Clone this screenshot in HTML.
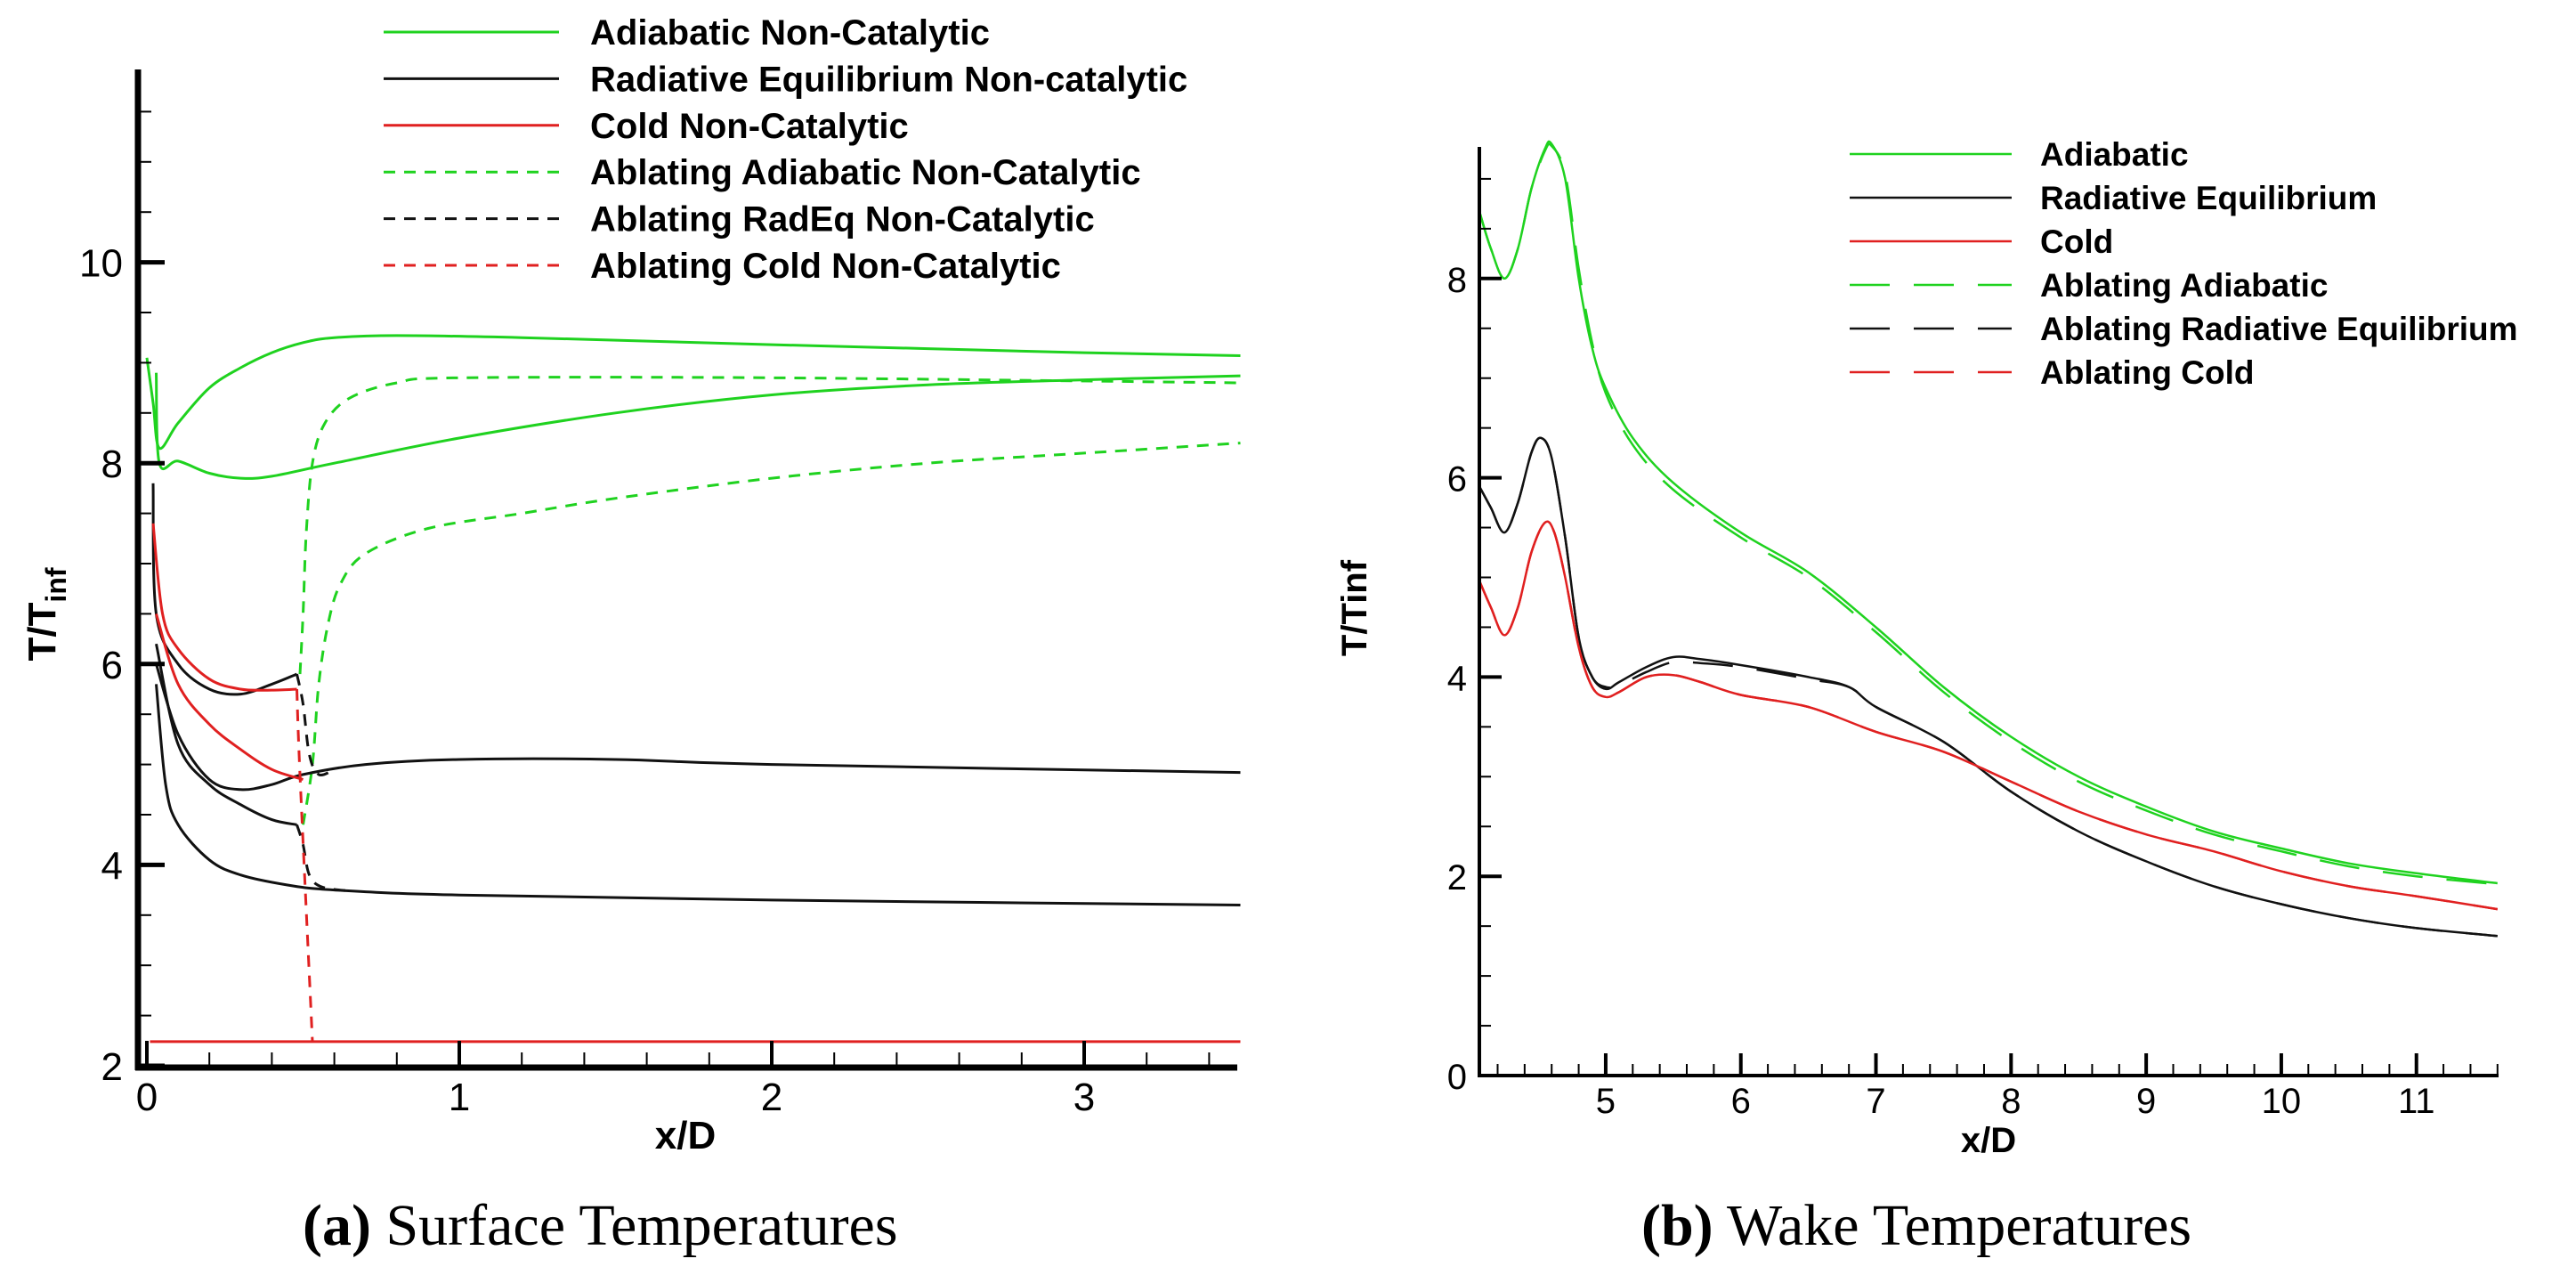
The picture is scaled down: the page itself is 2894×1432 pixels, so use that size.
<!DOCTYPE html>
<html><head><meta charset="utf-8">
<style>
html,body{margin:0;padding:0;background:#fff;}
svg{display:block;}
.tk{font-family:"Liberation Sans",sans-serif;font-size:44px;fill:#000;}
.lg{font-family:"Liberation Sans",sans-serif;font-size:40px;font-weight:bold;fill:#000;}
.ax{font-family:"Liberation Sans",sans-serif;font-size:44px;font-weight:bold;fill:#000;}
.cap{font-family:"Liberation Serif",serif;font-size:66px;fill:#000;}
</style></head>
<body>
<svg id="fig" width="2894" height="1432" viewBox="0 0 2894 1432" xmlns="http://www.w3.org/2000/svg">
<g id="chartA"></g>
<g id="chartB"></g>
<text class="cap" x="340" y="1398"><tspan font-weight="bold">(a)</tspan> Surface Temperatures</text>
<text class="cap" x="1844" y="1398"><tspan font-weight="bold">(b)</tspan> Wake Temperatures</text>
</svg>
<script>
// ---------- Chart A data (x/D, T/Tinf) ----------
const aAdiabaticUpperX = [0,0.02,0.04,0.1,0.2,0.3,0.4,0.5,0.6,0.8,1.2,2,2.5,3,3.5];
const aAdiabaticUpperY = [9.05,8.6,8.15,8.4,8.75,8.95,9.1,9.2,9.25,9.27,9.25,9.18,9.14,9.1,9.07];
const aAdiabaticLowerX = [0.03,0.04,0.1,0.2,0.3,0.4,0.6,1,1.5,2,2.5,3,3.5];
const aAdiabaticLowerY = [8.9,8.0,8.02,7.9,7.85,7.87,8.0,8.25,8.5,8.68,8.78,8.83,8.87];
const aAblAdiaUpperX = [0.49,0.5,0.51,0.53,0.57,0.65,0.8,1.0,2,3.5];
const aAblAdiaUpperY = [5.9,6.5,7.3,8.0,8.4,8.65,8.8,8.85,8.85,8.8];
const aAblAdiaLowerX = [0.5,0.53,0.55,0.58,0.62,0.7,0.9,1.2,1.5,2,2.5,3,3.5];
const aAblAdiaLowerY = [4.4,5.0,5.8,6.4,6.8,7.1,7.35,7.5,7.65,7.85,8.0,8.1,8.2];
const aRadUpperX = [0.02,0.03,0.1,0.2,0.3,0.4,0.48];
const aRadUpperY = [7.8,6.5,6.0,5.75,5.7,5.8,5.9];
const aRadMidX = [0.03,0.1,0.2,0.3,0.4,0.5,0.7,1,1.5,2,3.5];
const aRadMidY = [6.0,5.3,4.85,4.75,4.8,4.9,5.0,5.05,5.05,5.0,4.92];
const aRadLowX = [0.03,0.06,0.1,0.2,0.3,0.45,0.6,1,2,3.5];
const aRadLowY = [5.8,4.8,4.4,4.05,3.9,3.8,3.75,3.7,3.65,3.6];
const aRadSegX = [0.03,0.1,0.2,0.3,0.4,0.48];
const aRadSegY = [6.2,5.2,4.8,4.6,4.45,4.4];
const aAblRad1X = [0.48,0.5,0.52,0.55,0.6];
const aAblRad1Y = [5.9,5.6,5.1,4.9,4.95];
const aAblRad2X = [0.48,0.5,0.52,0.56,0.65];
const aAblRad2Y = [4.4,4.2,3.9,3.78,3.74];
const aColdUpperX = [0.02,0.05,0.1,0.2,0.3,0.4,0.48];
const aColdUpperY = [7.4,6.5,6.15,5.85,5.75,5.74,5.75];
const aColdLowerX = [0.03,0.1,0.2,0.3,0.4,0.5];
const aColdLowerY = [6.5,5.8,5.4,5.15,4.95,4.85];
const aColdFlatX = [0.01,3.5];
const aColdFlatY = [2.24,2.24];
const aAblColdX = [0.48,0.49,0.53];
const aAblColdY = [5.75,4.9,2.24];
const aXTicks = [0,1,2,3];
const aYTicks = [2,4,6,8,10];
const aLegendLabels = ["Adiabatic Non-Catalytic","Radiative Equilibrium Non-catalytic","Cold Non-Catalytic","Ablating Adiabatic Non-Catalytic","Ablating RadEq Non-Catalytic","Ablating Cold Non-Catalytic"];

// ---------- Chart B data ----------
const bAdiaX = [4.07,4.15,4.25,4.35,4.45,4.55,4.6,4.7,4.8,4.9,5.0,5.2,5.5,6,6.5,7,7.5,8,8.5,9,9.5,10,10.5,11,11.6];
const bAdiaY = [8.65,8.3,8.0,8.3,8.9,9.3,9.35,9.0,8.0,7.3,6.9,6.4,5.95,5.45,5.05,4.5,3.9,3.4,3.0,2.7,2.45,2.28,2.13,2.03,1.93];
const bAblAdiaY = [8.65,8.3,8.0,8.3,8.9,9.28,9.33,9.05,8.1,7.35,6.85,6.33,5.88,5.4,5.0,4.45,3.85,3.35,2.95,2.66,2.42,2.25,2.1,2.0,1.92];
const bRadX = [4.07,4.15,4.25,4.35,4.45,4.52,4.6,4.7,4.8,4.9,5.0,5.1,5.3,5.5,5.7,6,6.5,6.8,7,7.5,8,8.5,9,9.5,10,10.5,11,11.6];
const bRadY = [5.9,5.7,5.45,5.75,6.25,6.4,6.2,5.4,4.4,4.0,3.88,3.95,4.1,4.2,4.18,4.12,4.0,3.9,3.7,3.35,2.85,2.45,2.15,1.9,1.72,1.58,1.48,1.4];
const bAblRadY = [5.9,5.7,5.45,5.75,6.25,6.4,6.2,5.4,4.4,4.0,3.9,3.92,4.05,4.15,4.14,4.1,3.98,3.9,3.7,3.35,2.85,2.45,2.15,1.9,1.72,1.58,1.48,1.4];
const bColdX = [4.07,4.15,4.25,4.35,4.45,4.55,4.62,4.7,4.8,4.9,5.0,5.1,5.3,5.5,5.7,6,6.5,7,7.5,8,8.5,9,9.5,10,10.5,11,11.6];
const bColdY = [4.95,4.7,4.42,4.7,5.25,5.55,5.45,5.0,4.3,3.9,3.8,3.85,4.0,4.02,3.95,3.82,3.7,3.45,3.25,2.95,2.65,2.42,2.25,2.05,1.9,1.8,1.67];
const bXTicks = [5,6,7,8,9,10,11];
const bYTicks = [0,2,4,6,8];
const bLegendLabels = ["Adiabatic","Radiative Equilibrium","Cold","Ablating Adiabatic","Ablating Radiative Equilibrium","Ablating Cold"];

const NS="http://www.w3.org/2000/svg";
function mk(parent,tag,attrs){const e=document.createElementNS(NS,tag);for(const k in attrs)e.setAttribute(k,attrs[k]);parent.appendChild(e);return e;}
function pathD(xs,ys,sx,sy){
 const P=xs.map((x,i)=>[sx(x),sy(ys[i])]);
 let d='M'+P[0][0].toFixed(1)+' '+P[0][1].toFixed(1);
 for(let i=0;i<P.length-1;i++){
  const p0=P[Math.max(0,i-1)],p1=P[i],p2=P[i+1],p3=P[Math.min(P.length-1,i+2)];
  const c1=[p1[0]+(p2[0]-p0[0])/6,p1[1]+(p2[1]-p0[1])/6];
  const c2=[p2[0]-(p3[0]-p1[0])/6,p2[1]-(p3[1]-p1[1])/6];
  d+=' C'+c1[0].toFixed(1)+' '+c1[1].toFixed(1)+' '+c2[0].toFixed(1)+' '+c2[1].toFixed(1)+' '+p2[0].toFixed(1)+' '+p2[1].toFixed(1);
 }
 return d;
}

const GREEN="#1fd21f",BLACK="#111",RED="#e02020";

// ---------- Chart A ----------
(function(){
 const g=document.getElementById('chartA');
 const sx=u=>165+u*351, sy=v=>1197-(v-2)*112.8;
 const dashS="13 10";
 const series=[
  [aAdiabaticUpperX,aAdiabaticUpperY,GREEN,null,'adiabatic-upper-line'],
  [aAdiabaticLowerX,aAdiabaticLowerY,GREEN,null,'adiabatic-lower-line'],
  [aAblAdiaUpperX,aAblAdiaUpperY,GREEN,dashS,'ablating-adiabatic-upper-line'],
  [aAblAdiaLowerX,aAblAdiaLowerY,GREEN,dashS,'ablating-adiabatic-lower-line'],
  [aRadUpperX,aRadUpperY,BLACK,null,'radeq-upper-line'],
  [aRadMidX,aRadMidY,BLACK,null,'radeq-middle-line'],
  [aRadLowX,aRadLowY,BLACK,null,'radeq-lower-line'],
  [aRadSegX,aRadSegY,BLACK,null,'radeq-segment-line'],
  [aAblRad1X,aAblRad1Y,BLACK,dashS,'ablating-radeq-line-1'],
  [aAblRad2X,aAblRad2Y,BLACK,dashS,'ablating-radeq-line-2'],
  [aColdUpperX,aColdUpperY,RED,null,'cold-upper-line'],
  [aColdLowerX,aColdLowerY,RED,null,'cold-lower-line'],
  [aColdFlatX,aColdFlatY,RED,null,'cold-flat-line'],
  [aAblColdX,aAblColdY,RED,dashS,'ablating-cold-line']
 ];
 series.forEach(s=>{
  const p=mk(g,'path',{d:pathD(s[0],s[1],sx,sy),fill:'none',stroke:s[2],'stroke-width':3,'stroke-linejoin':'round'});
  if(s[3])p.setAttribute('stroke-dasharray',s[3]);
  
  
 });
 const ya=mk(g,'line',{x1:155,y1:78,x2:155,y2:1202,stroke:'#000','stroke-width':7});
 
 
 const xa=mk(g,'line',{x1:152,y1:1199,x2:1390,y2:1199,stroke:'#000','stroke-width':7});
 
 
 for(let v=2;v<=11.5;v+=0.5){const maj=aYTicks.includes(v);
  const t=mk(g,'line',{x1:155,y1:sy(v),x2:155+(maj?30:15),y2:sy(v),stroke:'#000','stroke-width':maj?5:2});
  
  }
 for(let u=0;u<=3.45;u+=0.2){const r=Math.round(u*10)/10;const maj=aXTicks.includes(r);
  const t=mk(g,'line',{x1:sx(r),y1:1199,x2:sx(r),y2:1199-(maj?30:17),stroke:'#000','stroke-width':maj?4:2});
  
  }
 aYTicks.forEach(v=>{const t=mk(g,'text',{class:'tk',x:138,y:sy(v)+16,'text-anchor':'end'});t.textContent=v;
  
  });
 aXTicks.forEach(u=>{const t=mk(g,'text',{class:'tk',x:sx(u),y:1247,'text-anchor':'middle'});t.textContent=u;
  
  });
 const xl=mk(g,'text',{class:'ax',x:770,y:1290,'text-anchor':'middle'});xl.textContent='x/D';
 
 
 const yl=mk(g,'text',{class:'ax',x:0,y:0,'text-anchor':'middle',transform:'translate(62,690) rotate(-90)'});
 yl.innerHTML='T/T<tspan font-size="32" dy="12">inf</tspan>';
 
 
 const cols=[GREEN,BLACK,RED,GREEN,BLACK,RED];
 aLegendLabels.forEach((lab,i)=>{const y=36+i*52.4;
  const ln=mk(g,'line',{x1:431,y1:y,x2:628,y2:y,stroke:cols[i],'stroke-width':3});
  if(i>2)ln.setAttribute('stroke-dasharray',dashS);
  
  
  const t=mk(g,'text',{class:'lg',x:663,y:y+14});t.textContent=lab;
  
  });
})();

// ---------- Chart B ----------
(function(){
 const g=document.getElementById('chartB');
 const sx=u=>1662+(u-4.065)*151.8, sy=v=>1208-v*111.9;
 const dashL="45 27";
 const series=[
  [bAdiaX,bAdiaY,GREEN,null,'adiabatic-line'],
  [bAdiaX,bAblAdiaY,GREEN,dashL,'ablating-adiabatic-line'],
  [bRadX,bRadY,BLACK,null,'radiative-equilibrium-line'],
  [bRadX,bAblRadY,BLACK,dashL,'ablating-radiative-equilibrium-line'],
  [bColdX,bColdY,RED,null,'cold-line'],
  [bColdX,bColdY,RED,dashL,'ablating-cold-line']
 ];
 series.forEach(s=>{
  const p=mk(g,'path',{d:pathD(s[0],s[1],sx,sy),fill:'none',stroke:s[2],'stroke-width':2.5,'stroke-linejoin':'round'});
  if(s[3])p.setAttribute('stroke-dasharray',s[3]);
  
  
 });
 const ya=mk(g,'line',{x1:1662,y1:165,x2:1662,y2:1210,stroke:'#000','stroke-width':4});
 
 
 const xa=mk(g,'line',{x1:1660,y1:1208,x2:2807,y2:1208,stroke:'#000','stroke-width':4});
 
 
 for(let v=0;v<=9;v+=0.5){const maj=bYTicks.includes(v);
  const t=mk(g,'line',{x1:1662,y1:sy(v),x2:1662+(maj?25:13),y2:sy(v),stroke:'#000','stroke-width':maj?4:2});
  
  }
 for(let u=4.2;u<=11.6;u+=0.2){const r=Math.round(u*10)/10;const maj=bXTicks.includes(r);
  const t=mk(g,'line',{x1:sx(r),y1:1208,x2:sx(r),y2:1208-(maj?25:13),stroke:'#000','stroke-width':maj?4:2});
  
  }
 bYTicks.forEach(v=>{const t=mk(g,'text',{class:'tk',x:1648,y:sy(v)+15,'text-anchor':'end'});t.textContent=v;
  t.setAttribute('style','font-size:40px');
  
  });
 bXTicks.forEach(u=>{const t=mk(g,'text',{class:'tk',x:sx(u),y:1250,'text-anchor':'middle'});t.textContent=u;
  t.setAttribute('style','font-size:40px');
  
  });
 const xl=mk(g,'text',{class:'ax',x:2234,y:1294,'text-anchor':'middle'});xl.textContent='x/D';
 xl.setAttribute('style','font-size:40px');
 
 
 const yl=mk(g,'text',{class:'ax',x:0,y:0,'text-anchor':'middle',transform:'translate(1535,683) rotate(-90)'});
 yl.textContent='T/Tinf';
 yl.setAttribute('style','font-size:40px');
 
 
 const cols=[GREEN,BLACK,RED,GREEN,BLACK,RED];
 bLegendLabels.forEach((lab,i)=>{const y=173+i*49;
  const ln=mk(g,'line',{x1:2078,y1:y,x2:2260,y2:y,stroke:cols[i],'stroke-width':2.5});
  if(i>2)ln.setAttribute('stroke-dasharray',dashL);
  
  
  const t=mk(g,'text',{class:'lg',x:2292,y:y+13});t.textContent=lab;
  t.setAttribute('style','font-size:37px');
  
  });
})();
</script>
</body></html>
